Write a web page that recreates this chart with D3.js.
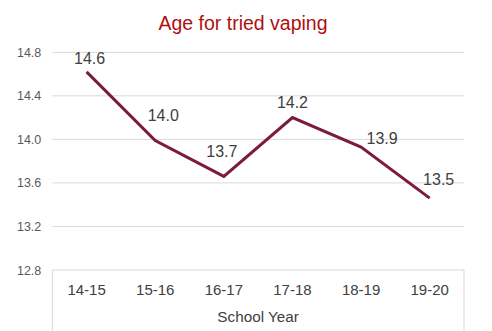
<!DOCTYPE html>
<html>
<head>
<meta charset="utf-8">
<script src="https://cdn.jsdelivr.net/npm/d3@7"></script>
<style>
  html, body { margin: 0; padding: 0; background: #fff; }
  svg { display: block; font-family: "Liberation Sans", Arial, sans-serif; }
</style>
</head>
<body>
<svg id="chart" width="492" height="331"></svg>
<script>
// ---- data ----
const categories = ["14-15", "15-16", "16-17", "17-18", "18-19", "19-20"];
const ages = [14.62, 13.99, 13.66, 14.20, 13.93, 13.46];
const ageLabels = ["14.6", "14.0", "13.7", "14.2", "13.9", "13.5"];
const yTicks = [12.8, 13.2, 13.6, 14.0, 14.4, 14.8];
const title = "Age for tried vaping";
const xTitle = "School Year";

// ---- layout (not data) ----
const labelOffsets = [[3, -8], [8, -19], [-2, -19], [0, -10], [21, -3], [9, -13]];

(function () {
const svg = d3.select("#chart");
const pLeft = 52.3, pRight = 464, pTop = 52.3, pBottom = 270;

const x = d3.scaleBand().domain(categories).range([pLeft, pRight]);
const y = d3.scaleLinear().domain([12.8, 14.8]).range([pBottom, pTop]);

// title
svg.append("text")
  .attr("x", 243).attr("y", 30)
  .attr("text-anchor", "middle")
  .attr("fill", "#B01010")
  .style("font-size", "19.5px")
  .text(title);

// gridlines
svg.append("g").selectAll("line").data(yTicks.filter(t => t > 12.8)).join("line")
  .attr("x1", pLeft).attr("x2", pRight)
  .attr("y1", d => y(d)).attr("y2", d => y(d))
  .attr("stroke", "#d9d9d9").attr("stroke-width", 1);

// y axis labels
const yAxis = d3.axisLeft(y).tickValues(yTicks).tickFormat(d3.format(".1f")).tickSize(0).tickPadding(11);
const yg = svg.append("g").attr("transform", `translate(${pLeft},0)`).call(yAxis);
yg.select(".domain").remove();
yg.selectAll("text").attr("fill", "#595959").style("font-size", "12.5px")
  .style("font-family", "'Liberation Sans', Arial, sans-serif");

// x axis box
svg.append("path")
  .attr("d", `M${pLeft},331 V${pBottom} H${pRight} V331`)
  .attr("fill", "none").attr("stroke", "#d9d9d9").attr("stroke-width", 1);

// x axis labels
const xAxis = d3.axisBottom(x).tickSize(0).tickPadding(14);
const xg = svg.append("g").attr("transform", `translate(0,${pBottom})`).call(xAxis);
xg.select(".domain").remove();
xg.selectAll("text").attr("fill", "#404040").style("font-size", "15px")
  .style("font-family", "'Liberation Sans', Arial, sans-serif");

svg.append("text")
  .attr("x", (pLeft + pRight) / 2).attr("y", 322)
  .attr("text-anchor", "middle")
  .attr("fill", "#404040")
  .style("font-size", "15.3px")
  .text(xTitle);

// line
const line = d3.line()
  .x((d, i) => x(categories[i]) + x.bandwidth() / 2)
  .y(d => y(d));
svg.append("path")
  .datum(ages)
  .attr("d", line)
  .attr("fill", "none")
  .attr("stroke", "#7B1C3B")
  .attr("stroke-width", 3)
  .attr("stroke-linejoin", "miter");

// data labels
svg.append("g").selectAll("text").data(ages).join("text")
  .attr("x", (d, i) => x(categories[i]) + x.bandwidth() / 2 + labelOffsets[i][0])
  .attr("y", (d, i) => y(d) + labelOffsets[i][1])
  .attr("text-anchor", "middle")
  .attr("fill", "#404040")
  .style("font-size", "16px")
  .text((d, i) => ageLabels[i]);
})();
</script>
</body>
</html>
